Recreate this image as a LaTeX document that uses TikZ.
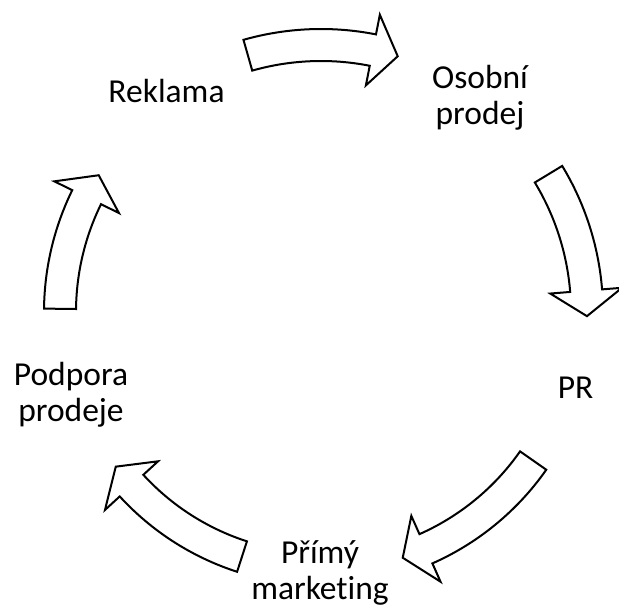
\documentclass[tikz,border=0pt]{standalone}
\usepackage{fontspec}
\setmainfont{Carlito}[Ligatures=NoCommon]
% curved block arrow around the cycle centre (c): #1 radius, #2 tail angle, #3 tip angle
\newcommand\cycarrow[3]{%
  \pgfmathsetmacro\headbase{#3+5.5}%
  \draw[cyclearrow]
    ([shift={(#2:#1+16)}]c) arc[start angle=#2, end angle=\headbase, radius=#1+16]
    -- ([shift={(\headbase:#1+36)}]c)
    -- ([shift={(#3:#1)}]c)
    -- ([shift={(\headbase:#1-36)}]c)
    -- ([shift={(\headbase:#1-16)}]c)
    arc[start angle=\headbase, end angle=#2, radius=#1-16]
    -- cycle;
}
\begin{document}
\begin{tikzpicture}[x=1pt, y=1pt,
  cyclearrow/.style={draw=black, fill=white, line width=2pt, line join=miter},
  steplabel/.style={font=\fontsize{33.5}{36}\selectfont, align=center, inner sep=0pt}]
\useasboundingbox (0,0) rectangle (619,605);
\coordinate (c) at (321,293);

% labels of the five steps
\node[steplabel, anchor=base] (reklama) at (166.5,502) {Reklama};
\node[steplabel] (osobni) at (480,507.5) {Osobní\\prodej};
\node[steplabel, anchor=base] (pr) at (575.5,206) {PR};
\node[steplabel] (primy) at (320,32) {Přímý\\marketing};
\node[steplabel] (podpora) at (71,210.5) {Podpora\\prodeje};

% arrows between the steps, clockwise
\cycarrow{267}{105.9}{73.3}
\cycarrow{266}{31.2}{-0.9}
\cycarrow{259}{-35}{-71.6}
\cycarrow{257}{-107.9}{-143}
\cycarrow{261}{179.3}{148.4}
\end{tikzpicture}
\end{document}
